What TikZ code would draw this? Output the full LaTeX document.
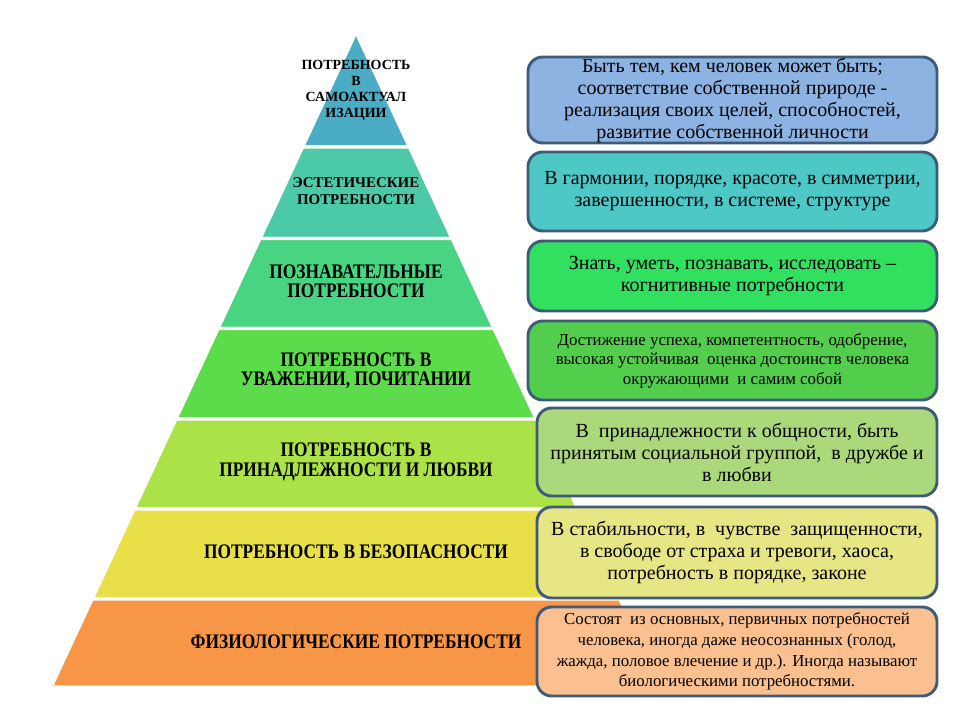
\documentclass[tikz,border=0pt]{standalone}
\usepackage{fontspec}
\setmainfont{Liberation Serif}
\newfontfamily\notefont{Liberation Serif}
\newfontfamily\condfont[FakeStretch=0.84]{Liberation Serif}
\usepackage{xcolor}
\usepackage{tikz}
\definecolor{tierA}{RGB}{75, 172, 198}
\definecolor{tierB}{RGB}{76, 202, 168}
\definecolor{tierC}{RGB}{72, 212, 128}
\definecolor{tierD}{RGB}{92, 220, 74}
\definecolor{tierE}{RGB}{170, 226, 72}
\definecolor{tierF}{RGB}{233, 223, 72}
\definecolor{tierG}{RGB}{247, 150, 70}
\definecolor{noteA}{RGB}{141, 179, 226}
\definecolor{noteB}{RGB}{78, 200, 198}
\definecolor{noteC}{RGB}{50, 224, 96}
\definecolor{noteD}{RGB}{82, 206, 76}
\definecolor{noteE}{RGB}{170, 216, 122}
\definecolor{noteF}{RGB}{230, 230, 132}
\definecolor{noteG}{RGB}{250, 192, 143}
\definecolor{rim}{RGB}{62, 92, 122}

\tikzset{
  tier/.style={draw=white, line width=2.6pt, line join=round},
  small need/.style={font=\notefont\bfseries\fontsize{10.5}{12}\selectfont, align=center, inner sep=0pt},
  need/.style={font=\condfont\bfseries\fontsize{15.5}{14.5}\selectfont, align=center, inner sep=0pt},
  note/.style={draw=rim, line width=2.2pt, rounded corners=11pt, align=center, inner sep=0pt,
    font=\notefont\fontsize{15}{16.5}\selectfont},
  wide/.style={minimum width=306.75pt},
  narrow/.style={minimum width=300pt}
}

\begin{document}
\begin{tikzpicture}[x=0.75pt, y=-0.75pt]
  \useasboundingbox (0,0) rectangle (960,720);

  % pyramid tiers, apex at (356,32)
  \draw[tier, fill=tierA] (356,32) -- (409.5,147) -- (302.5,147) -- cycle;
  \draw[tier, fill=tierB] (302.5,147) -- (409.5,147) -- (452.1,238.5) -- (259.9,238.5) -- cycle;
  \draw[tier, fill=tierC] (259.9,238.5) -- (452.1,238.5) -- (494,328.5) -- (218,328.5) -- cycle;
  \draw[tier, fill=tierD] (218,328.5) -- (494,328.5) -- (536.2,419) -- (175.8,419) -- cycle;
  \draw[tier, fill=tierE] (175.8,419) -- (536.2,419) -- (578.1,509) -- (133.9,509) -- cycle;
  \draw[tier, fill=tierF] (133.9,509) -- (578.1,509) -- (620,599) -- (92,599) -- cycle;
  \draw[tier, fill=tierG] (92,599) -- (620,599) -- (661,687) -- (51,687) -- cycle;

  % tier labels
  \node[small need] (selfact) at (356,90.5) {ПОТРЕБНОСТЬ\\В\\САМОАКТУАЛ\\ИЗАЦИИ};
  \node[small need, font=\notefont\bfseries\fontsize{11.2}{12.5}\selectfont] (aesth) at (356,191) {ЭСТЕТИЧЕСКИЕ\\ПОТРЕБНОСТИ};
  \node[need] (cogn) at (356,281) {ПОЗНАВАТЕЛЬНЫЕ\\ПОТРЕБНОСТИ};
  \node[need] (esteem) at (356,371) {ПОТРЕБНОСТЬ В\\УВАЖЕНИИ, ПОЧИТАНИИ};
  \node[need] (love) at (356,462) {ПОТРЕБНОСТЬ В\\ПРИНАДЛЕЖНОСТИ И ЛЮБВИ};
  \node[need] (safety) at (356,552) {ПОТРЕБНОСТЬ В БЕЗОПАСНОСТИ};
  \node[need] (physio) at (356,642) {ФИЗИОЛОГИЧЕСКИЕ ПОТРЕБНОСТИ};

  % explanation boxes
  \node[note, wide, fill=noteA, minimum height=64.5pt] (selfactNote) at (732.5,100)
    {Быть тем, кем человек может быть;\\соответствие собственной природе -\\реализация своих целей, способностей,\\развитие собственной личности};
  \node[note, wide, fill=noteB, minimum height=59.25pt] (aesthNote) at (732.5,191.5)
    {В гармонии, порядке, красоте, в симметрии,\\завершенности, в системе, структуре};
  \node[note, wide, fill=noteC, minimum height=52.5pt] (cognNote) at (732.5,276)
    {Знать, уметь, познавать, исследовать –\\когнитивные потребности};
  \node[note, wide, fill=noteD, minimum height=59.25pt, font=\notefont\fontsize{12.6}{14.5}\selectfont] (esteemNote) at (732.5,360.5)
    {Достижение успеха, компетентность, одобрение,\\высокая устойчивая\ \ оценка достоинств человека\\окружающими\ \ и самим собой};
  \node[note, narrow, fill=noteE, minimum height=66pt] (loveNote) at (737,452)
    {В\ \ принадлежности к общности, быть\\принятым социальной группой,\ \ в дружбе и\\в любви};
  \node[note, narrow, fill=noteF, minimum height=68.25pt] (safetyNote) at (737,552.5)
    {В стабильности, в\ \ чувстве\ \ защищенности,\\в свободе от страха и тревоги, хаоса,\\потребность в порядке, законе};
  \node[note, narrow, fill=noteG, minimum height=66.75pt, font=\notefont\fontsize{12.6}{15.5}\selectfont] (physioNote) at (737,651.5)
    {Состоят\ \ из основных, первичных потребностей\\человека, иногда даже неосознанных (голод,\\жажда, половое влечение и др.). Иногда называют\\биологическими потребностями.};
\end{tikzpicture}
\end{document}
